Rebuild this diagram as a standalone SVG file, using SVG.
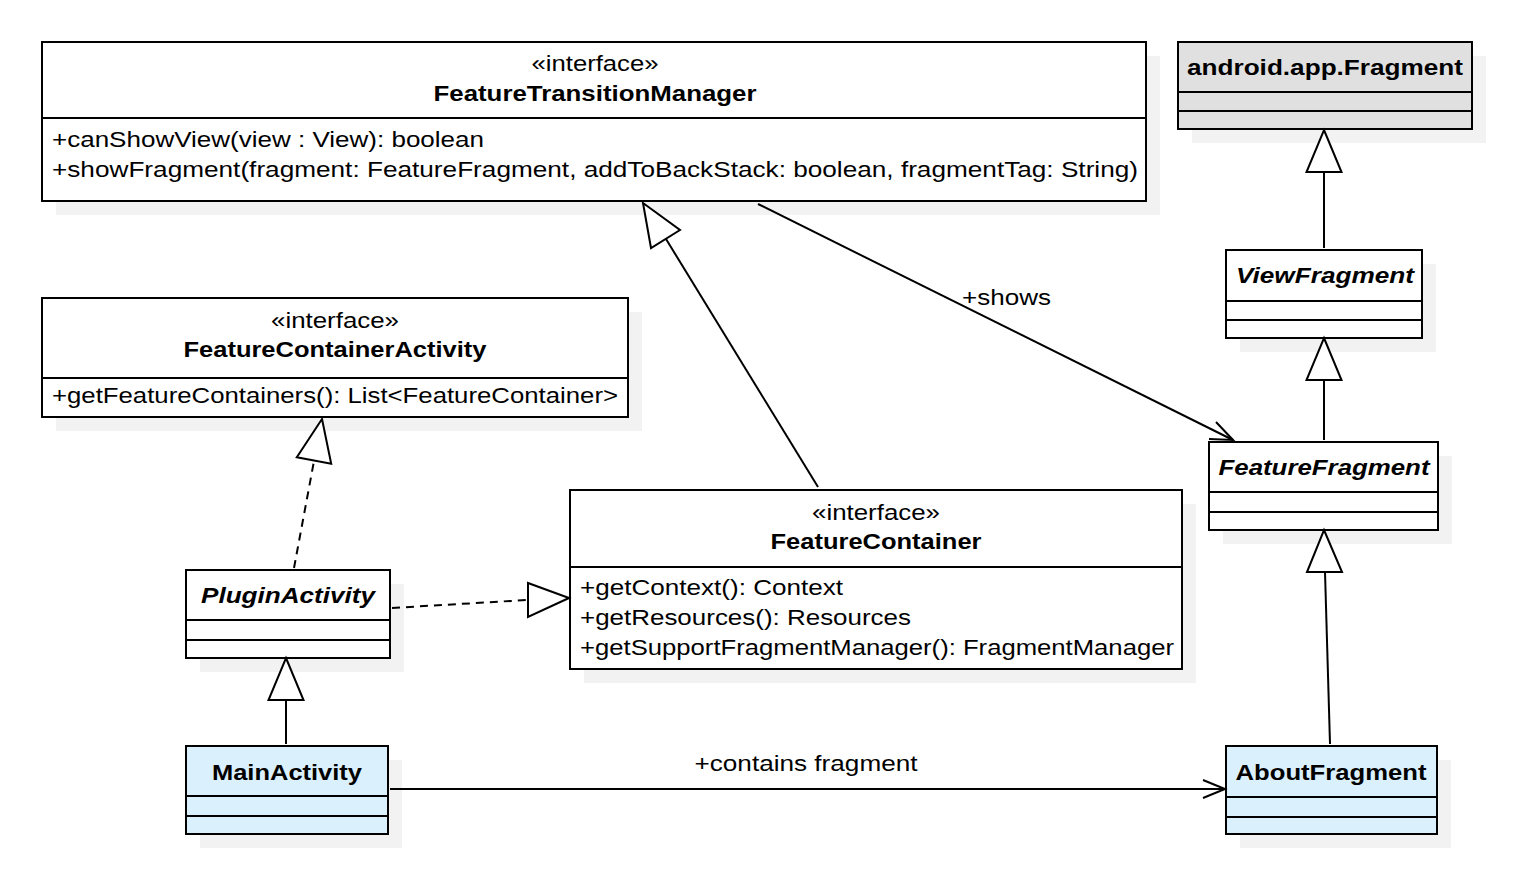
<svg xmlns="http://www.w3.org/2000/svg" width="1530" height="892" viewBox="0 0 1530 892">
<style>
.bg{fill:#ffffff}
.sh{fill:#f2f2f2}
.box{fill:#ffffff;stroke:#000;stroke-width:2}
.gray{fill:#e0e0e0;stroke:#000;stroke-width:2}
.blue{fill:#daf0fd;stroke:#000;stroke-width:2}
.div{stroke:#000;stroke-width:2}
text{font-family:"Liberation Sans",Arial,sans-serif;font-size:22px;fill:#000}
.b{font-weight:bold}
.bi{font-weight:bold;font-style:italic}
.c{text-anchor:middle}
.ln{fill:none;stroke:#000;stroke-width:2}
.dash{fill:none;stroke:#000;stroke-width:2;stroke-dasharray:8 6}
.tri{fill:#fff;stroke:#000;stroke-width:2}
</style>
<rect class="bg" x="0" y="0" width="1530" height="892"/>

<g id="FeatureTransitionManager">
<rect class="sh" x="56" y="56" width="1104" height="159"/>
<rect class="box" x="42" y="42" width="1104" height="159"/>
<line class="div" x1="42" y1="118" x2="1146" y2="118"/>
<text class="c" x="595" y="71" textLength="127" lengthAdjust="spacingAndGlyphs">«interface»</text>
<text class="c b" x="595" y="101" textLength="323" lengthAdjust="spacingAndGlyphs">FeatureTransitionManager</text>
<text x="52" y="147" textLength="432" lengthAdjust="spacingAndGlyphs">+canShowView(view : View): boolean</text>
<text x="52" y="177" textLength="1086" lengthAdjust="spacingAndGlyphs">+showFragment(fragment: FeatureFragment, addToBackStack: boolean, fragmentTag: String)</text>
</g>

<g id="AndroidFragment">
<rect class="sh" x="1192" y="56" width="294" height="87"/>
<rect class="gray" x="1178" y="42" width="294" height="87"/>
<line class="div" x1="1178" y1="92" x2="1472" y2="92"/>
<line class="div" x1="1178" y1="111" x2="1472" y2="111"/>
<text class="c b" x="1325" y="75" textLength="276" lengthAdjust="spacingAndGlyphs">android.app.Fragment</text>
</g>

<g id="ViewFragment">
<rect class="sh" x="1240" y="264" width="196" height="88"/>
<rect class="box" x="1226" y="250" width="196" height="88"/>
<line class="div" x1="1226" y1="301" x2="1422" y2="301"/>
<line class="div" x1="1226" y1="320" x2="1422" y2="320"/>
<text class="c bi" x="1325" y="283" textLength="178" lengthAdjust="spacingAndGlyphs">ViewFragment</text>
</g>

<g id="FeatureFragment">
<rect class="sh" x="1223" y="456" width="229" height="88"/>
<rect class="box" x="1209" y="442" width="229" height="88"/>
<line class="div" x1="1209" y1="492" x2="1438" y2="492"/>
<line class="div" x1="1209" y1="512" x2="1438" y2="512"/>
<text class="c bi" x="1324" y="475" textLength="211" lengthAdjust="spacingAndGlyphs">FeatureFragment</text>
</g>

<g id="AboutFragment">
<rect class="sh" x="1240" y="760" width="211" height="88"/>
<rect class="blue" x="1226" y="746" width="211" height="88"/>
<line class="div" x1="1226" y1="797" x2="1437" y2="797"/>
<line class="div" x1="1226" y1="817" x2="1437" y2="817"/>
<text class="c b" x="1331" y="780" textLength="191" lengthAdjust="spacingAndGlyphs">AboutFragment</text>
</g>

<g id="FeatureContainerActivity">
<rect class="sh" x="56" y="312" width="586" height="119"/>
<rect class="box" x="42" y="298" width="586" height="119"/>
<line class="div" x1="42" y1="378" x2="628" y2="378"/>
<text class="c" x="335" y="328" textLength="128" lengthAdjust="spacingAndGlyphs">«interface»</text>
<text class="c b" x="335" y="357" textLength="303" lengthAdjust="spacingAndGlyphs">FeatureContainerActivity</text>
<text x="52" y="403" textLength="566" lengthAdjust="spacingAndGlyphs">+getFeatureContainers(): List&lt;FeatureContainer&gt;</text>
</g>

<g id="PluginActivity">
<rect class="sh" x="200" y="584" width="204" height="88"/>
<rect class="box" x="186" y="570" width="204" height="88"/>
<line class="div" x1="186" y1="620" x2="390" y2="620"/>
<line class="div" x1="186" y1="640" x2="390" y2="640"/>
<text class="c bi" x="288" y="603" textLength="174" lengthAdjust="spacingAndGlyphs">PluginActivity</text>
</g>

<g id="MainActivity">
<rect class="sh" x="200" y="760" width="202" height="88"/>
<rect class="blue" x="186" y="746" width="202" height="88"/>
<line class="div" x1="186" y1="796" x2="388" y2="796"/>
<line class="div" x1="186" y1="816" x2="388" y2="816"/>
<text class="c b" x="287" y="780" textLength="150" lengthAdjust="spacingAndGlyphs">MainActivity</text>
</g>

<g id="FeatureContainer">
<rect class="sh" x="584" y="504" width="612" height="179"/>
<rect class="box" x="570" y="490" width="612" height="179"/>
<line class="div" x1="570" y1="567" x2="1182" y2="567"/>
<text class="c" x="876" y="520" textLength="128" lengthAdjust="spacingAndGlyphs">«interface»</text>
<text class="c b" x="876" y="549" textLength="211" lengthAdjust="spacingAndGlyphs">FeatureContainer</text>
<text x="580" y="595" textLength="263" lengthAdjust="spacingAndGlyphs">+getContext(): Context</text>
<text x="580" y="625" textLength="331" lengthAdjust="spacingAndGlyphs">+getResources(): Resources</text>
<text x="580" y="655" textLength="594" lengthAdjust="spacingAndGlyphs">+getSupportFragmentManager(): FragmentManager</text>
</g>

<g id="connectors">
<!-- ViewFragment -> android.app.Fragment -->
<line class="ln" x1="1324" y1="248" x2="1324" y2="172"/>
<polygon class="tri" points="1324,130 1341.5,172 1306.5,172"/>
<!-- FeatureFragment -> ViewFragment -->
<line class="ln" x1="1324" y1="440" x2="1324" y2="380"/>
<polygon class="tri" points="1324,338 1341.5,380 1306.5,380"/>
<!-- AboutFragment -> FeatureFragment -->
<line class="ln" x1="1330" y1="744" x2="1325" y2="572"/>
<polygon class="tri" points="1324,530 1342,572 1307,572"/>
<!-- MainActivity -> PluginActivity -->
<line class="ln" x1="286" y1="744" x2="286" y2="700"/>
<polygon class="tri" points="286,658 303.5,700 268.5,700"/>
<!-- PluginActivity ..> FeatureContainerActivity -->
<line class="dash" x1="294" y1="568" x2="314" y2="461"/>
<polygon class="tri" points="322,419 331.2,463.7 296.8,457.3"/>
<!-- PluginActivity ..> FeatureContainer -->
<line class="dash" x1="392" y1="608" x2="527" y2="600"/>
<polygon class="tri" points="569,598 528,583 528,617"/>
<!-- FeatureContainer -> FeatureTransitionManager -->
<line class="ln" x1="818" y1="487" x2="666" y2="239"/>
<polygon class="tri" points="643,203 680,230 651,248"/>
<!-- shows -->
<line class="ln" x1="758" y1="204" x2="1233" y2="440"/>
<polyline class="ln" points="1216,422 1233,440 1209,439"/>
<text x="962" y="305" textLength="89" lengthAdjust="spacingAndGlyphs">+shows</text>
<!-- contains fragment -->
<line class="ln" x1="390" y1="789" x2="1225" y2="789"/>
<polyline class="ln" points="1203,780 1225,789 1203,798"/>
<text class="c" x="806" y="771" textLength="223" lengthAdjust="spacingAndGlyphs">+contains fragment</text>
</g>
</svg>
